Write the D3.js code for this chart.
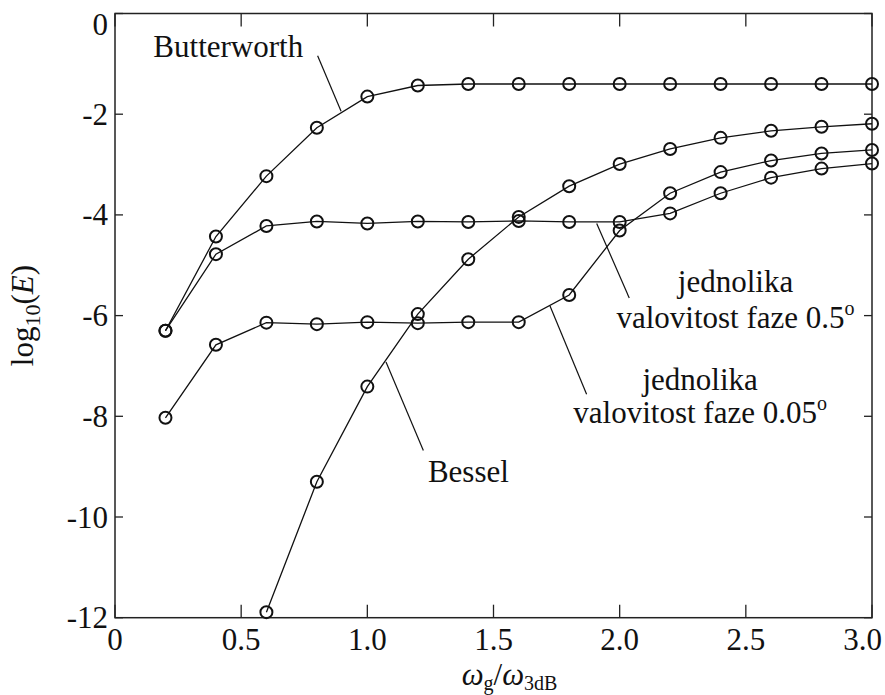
<!DOCTYPE html>
<html>
<head>
<meta charset="utf-8">
<title>log10(E) vs wg/w3dB</title>
<script src="https://d3js.org/d3.v7.min.js"></script>
<style>
  body { margin: 0; background: #fff; }
  svg text { font-family: "Liberation Serif", "Times New Roman", serif; fill: #111; }
  .series { fill: none; stroke: #111; stroke-width: 1.3px; }
  .marker { fill: none; stroke: #111; stroke-width: 2px; }
  .leader { stroke: #111; stroke-width: 1.2px; }
  .frame { fill: none; stroke: #222; stroke-width: 1.5px; }
  .tick { stroke: #222; stroke-width: 1.3px; }
</style>
</head>
<body>
<script>
// x values (omega_g / omega_3dB)
var xVals = [0.2, 0.4, 0.6, 0.8, 1.0, 1.2, 1.4, 1.6, 1.8, 2.0, 2.2, 2.4, 2.6, 2.8, 3.0];

// log10(E) for each filter
var butterworth = [-6.30, -4.43, -3.23, -2.27, -1.65, -1.43, -1.40, -1.40, -1.40, -1.40, -1.40, -1.40, -1.40, -1.40, -1.40];
var ripple05    = [-6.30, -4.78, -4.22, -4.13, -4.17, -4.13, -4.14, -4.12, -4.14, -4.14, -3.97, -3.57, -3.26, -3.08, -2.98];
var ripple005   = [-8.03, -6.58, -6.14, -6.17, -6.13, -6.15, -6.13, -6.13, -5.59, -4.31, -3.57, -3.15, -2.92, -2.78, -2.71];
var besselX     = [0.6, 0.8, 1.0, 1.2, 1.4, 1.6, 1.8, 2.0, 2.2, 2.4, 2.6, 2.8, 3.0];
var bessel      = [-11.89, -9.30, -7.41, -5.97, -4.88, -4.04, -3.43, -2.99, -2.69, -2.47, -2.33, -2.25, -2.19];

// axis ticks
var xTicks = [0, 0.5, 1.0, 1.5, 2.0, 2.5, 3.0];
var xTickLabels = ["0", "0.5", "1.0", "1.5", "2.0", "2.5", "3.0"];
var yTicks = [0, -2, -4, -6, -8, -10, -12];
var yTickLabels = ["0", "-2", "-4", "-6", "-8", "-10", "-12"];

var W = 885, H = 695;
var margin = {top: 13.5, right: 13, bottom: 77.3, left: 115};
var fs = 31;

var x = d3.scaleLinear().domain([0, 3]).range([margin.left, W - margin.right]);
var y = d3.scaleLinear().domain([-12, 0]).range([H - margin.bottom, margin.top]);

var svg = d3.select("body").append("svg")
    .attr("width", W)
    .attr("height", H);

// frame
svg.append("rect").attr("class", "frame")
    .attr("x", x(0)).attr("y", y(0))
    .attr("width", x(3) - x(0)).attr("height", y(-12) - y(0));

// ticks, pointing inward on all sides
var xt = 13, yt = 8;
xTicks.forEach(function(v) {
  svg.append("line").attr("class", "tick")
     .attr("x1", x(v)).attr("x2", x(v)).attr("y1", y(-12)).attr("y2", y(-12) - xt);
  svg.append("line").attr("class", "tick")
     .attr("x1", x(v)).attr("x2", x(v)).attr("y1", y(0)).attr("y2", y(0) + xt);
});
yTicks.forEach(function(v) {
  svg.append("line").attr("class", "tick")
     .attr("x1", x(0)).attr("x2", x(0) + yt).attr("y1", y(v)).attr("y2", y(v));
  svg.append("line").attr("class", "tick")
     .attr("x1", x(3)).attr("x2", x(3) - yt).attr("y1", y(v)).attr("y2", y(v));
});

// tick labels
xTicks.forEach(function(v, i) {
  var t = svg.append("text")
     .attr("x", x(v)).attr("y", y(-12) + 32.5)
     .attr("text-anchor", "middle")
     .style("font-size", fs + "px")
     .text(xTickLabels[i]);
  // keep the last label inside the picture
  var bb = t.node().getBBox();
  if (bb.x + bb.width > W - 3) t.attr("x", x(v) - (bb.x + bb.width - (W - 3)));
});
yTicks.forEach(function(v, i) {
  var t = svg.append("text")
     .attr("x", x(0) - 7).attr("y", y(v))
     .attr("dy", "0.34em")
     .attr("text-anchor", "end")
     .style("font-size", fs + "px")
     .text(yTickLabels[i]);
  if (v === 0) t.attr("dy", "0.7em");
});

// axis labels
var xl = svg.append("text")
    .attr("x", (x(0) + x(3)) / 2 + 16).attr("y", H - 10)
    .attr("text-anchor", "middle")
    .style("font-size", fs + "px");
xl.append("tspan").style("font-style", "italic").text("ω");
xl.append("tspan").attr("dy", 5).style("font-size", "20px").text("g");
xl.append("tspan").attr("dy", -5).text("/");
xl.append("tspan").style("font-style", "italic").text("ω");
xl.append("tspan").attr("dy", 5).style("font-size", "20px").text("3dB");

var yl = svg.append("text")
    .attr("transform", "translate(33," + ((y(0) + y(-12)) / 2) + ") rotate(-90)")
    .attr("text-anchor", "middle")
    .style("font-size", fs + "px");
yl.append("tspan").text("log");
yl.append("tspan").attr("dy", 7).style("font-size", "22px").text("10");
yl.append("tspan").attr("dy", -7).text("(");
yl.append("tspan").style("font-style", "italic").text("E");
yl.append("tspan").text(")");

// series
var line = d3.line()
    .x(function(d) { return x(d[0]); })
    .y(function(d) { return y(d[1]); });

function drawSeries(xs, ys) {
  var data = xs.map(function(v, i) { return [v, ys[i]]; });
  svg.append("path").datum(data).attr("class", "series").attr("d", line);
  svg.selectAll(null).data(data).enter().append("circle")
     .attr("class", "marker")
     .attr("cx", function(d) { return x(d[0]); })
     .attr("cy", function(d) { return y(d[1]); })
     .attr("r", 6);
}
drawSeries(xVals, butterworth);
drawSeries(xVals, ripple05);
drawSeries(xVals, ripple005);
drawSeries(besselX, bessel);

// annotation leaders (data units)
var leaders = [
  [0.803, -0.84, 0.896, -1.94],
  [1.074, -6.92, 1.222, -8.68],
  [1.909, -4.17, 2.038, -5.65],
  [1.724, -5.81, 1.869, -7.56]
];
leaders.forEach(function(l) {
  svg.append("line").attr("class", "leader")
     .attr("x1", x(l[0])).attr("y1", y(l[1]))
     .attr("x2", x(l[2])).attr("y2", y(l[3]));
});

// annotation texts
svg.append("text").attr("x", x(0.152)).attr("y", y(-0.86))
   .style("font-size", fs + "px").text("Butterworth");
svg.append("text").attr("x", x(1.24)).attr("y", y(-9.3))
   .style("font-size", fs + "px").text("Bessel");

function twoLine(cx, yy1, yy2, l2) {
  svg.append("text").attr("x", x(cx)).attr("y", y(yy1))
     .attr("text-anchor", "middle").style("font-size", fs + "px").text("jednolika");
  var t = svg.append("text").attr("x", x(cx)).attr("y", y(yy2))
     .attr("text-anchor", "middle").style("font-size", fs + "px");
  t.append("tspan").text(l2);
  t.append("tspan").attr("dy", -13).style("font-size", "20px").text("o");
}
twoLine(2.459, -5.53, -6.25, "valovitost faze 0.5");
twoLine(2.319, -7.48, -8.14, "valovitost faze 0.05");
</script>
</body>
</html>
